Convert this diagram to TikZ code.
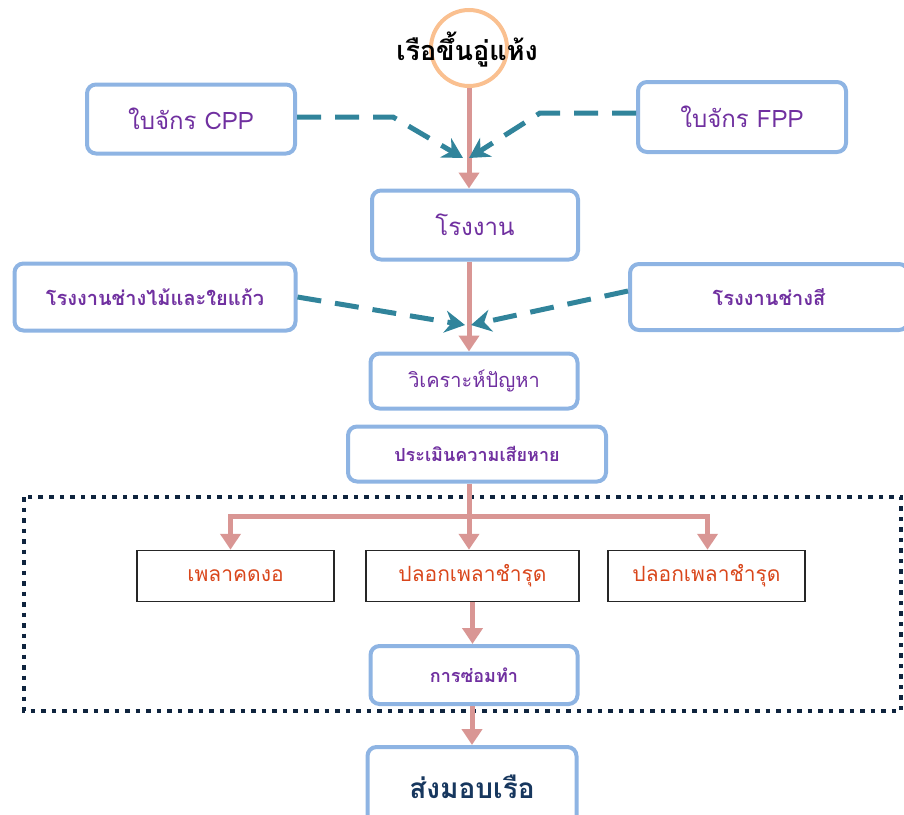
\documentclass[tikz,border=0pt]{standalone}
\usepackage{fontspec}
\setmainfont[Script=Thai]{Loma}
\usetikzlibrary{arrows.meta}
\definecolor{boxblue}{HTML}{8EB4E3}
\definecolor{txtpurple}{HTML}{7030A0}
\definecolor{txtred}{HTML}{D9461B}
\definecolor{txtnavy}{HTML}{17375E}
\definecolor{flowpink}{HTML}{D99694}
\definecolor{feedteal}{HTML}{31849B}
\definecolor{ringpeach}{HTML}{FAC090}
\definecolor{framenavy}{HTML}{0F243E}
\begin{document}
\begin{tikzpicture}
            [x=1pt,y=-1pt,
             Box/.style={draw=boxblue,line width=4pt,rounded corners=9pt,fill=white,inner sep=0pt,text=txtpurple},
             Part/.style={draw=black!85,line width=1.5pt,inner sep=0pt,minimum height=51pt,text=txtred,font=\fontsize{21}{24}\selectfont},
             Flow/.style={draw=flowpink,line width=5pt,-{Triangle[length=16pt,width=20pt]}},
             Feed/.style={draw=feedteal,line width=5pt,dash pattern=on 24pt off 14pt,-{Stealth[length=20pt,width=22pt]}}]
            \useasboundingbox (0,0) rectangle (904,814);
            % start of the process
            \node[draw=ringpeach,line width=4pt,circle,minimum size=76pt] (ring) at (469,48){};
            \node[font=\fontsize{27}{30}\selectfont\bfseries] (dock) at (467,50){เรือขึ้นอู่แห้ง};
            \node[Box,minimum width=208pt,minimum height=69pt,font=\fontsize{24}{28}\selectfont] (cpp) at (191,119){ใบจักร CPP};
            \node[Box,minimum width=208pt,minimum height=70pt,font=\fontsize{24}{28}\selectfont] (fpp) at (742,117){ใบจักร FPP};
            \node[Box,minimum width=206pt,minimum height=69pt,font=\fontsize{24}{28}\selectfont] (shop) at (475,225){โรงงาน};
            \node[Box,minimum width=281pt,minimum height=67pt,font=\fontsize{20}{24}\selectfont\bfseries] (wood) at (155,297){โรงงานช่างไม้และใยแก้ว};
            \node[Box,minimum width=278pt,minimum height=66pt,font=\fontsize{20}{24}\selectfont\bfseries] (paint) at (769,297){โรงงานช่างสี};
            \node[Box,minimum width=207pt,minimum height=55pt,font=\fontsize{20}{24}\selectfont] (analyse) at (474,381){วิเคราะห์ปัญหา};
            \node[Box,minimum width=258pt,minimum height=55pt,font=\fontsize{18}{22}\selectfont\bfseries] (assess) at (477,454){ประเมินความเสียหาย};
            % damage found
            \draw[framenavy,line width=4.5pt,dash pattern=on 4.5pt off 6pt] (24,497) rectangle (901,711);
            \node[Part,minimum width=197pt] (bent) at (235.5,576){เพลาคดงอ};
            \node[Part,minimum width=213pt] (sleeve) at (472.5,576){ปลอกเพลาชำรุด};
            \node[Part,minimum width=197pt] (sleeve2) at (706.5,576){ปลอกเพลาชำรุด};
            \node[Box,minimum width=207pt,minimum height=58pt,font=\fontsize{18}{22}\selectfont\bfseries] (repair) at (474,675){การซ่อมทำ};
            \node[Box,minimum width=209pt,minimum height=80pt,text=txtnavy,font=\fontsize{28}{32}\selectfont\bfseries] (deliver) at (472,787){ส่งมอบเรือ};
            % connectors
            \coordinate (cppbend) at (393,117);
            \coordinate (fppbend) at (540,113);
            \coordinate (meet1) at (466,158);
            \coordinate (meet2) at (468,325);
            \coordinate (split) at (469,516);
            \draw[Flow] (ring.south -| split) to (shop.north -| split);
            \draw[Feed] (cpp.east |- cppbend) -- (cppbend) -- ([xshift=-3pt]meet1);
            \draw[Feed] (fpp.west |- fppbend) -- (fppbend) -- ([xshift=3pt]meet1);
            \draw[Flow] (shop.south -| split) to (analyse.north -| split);
            \draw[Feed] (wood.east) to ([xshift=-3pt]meet2);
            \draw[Feed] ([yshift=6pt]paint.west) to ([xshift=3pt]meet2);
            \draw[Flow] (assess.south -| split) to (sleeve.north -| split);
            \draw[Flow] (split) -| ([xshift=-5pt]bent.north);
            \draw[Flow] (split) -| ([xshift=1pt]sleeve2.north);
            \draw[Flow] (sleeve.south) to (repair.north -| sleeve.south);
            \draw[Flow] (repair.south -| deliver.north) to (deliver.north);
        \end{tikzpicture}
\end{document}
